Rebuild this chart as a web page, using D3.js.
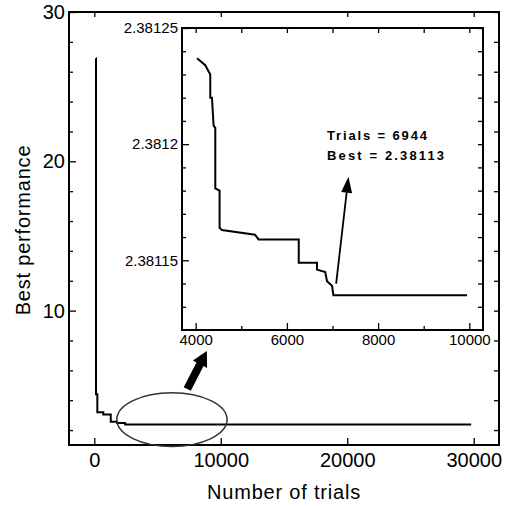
<!DOCTYPE html>
<html lang="en">
  <head>
    <meta charset="UTF-8" />
    <title>Best performance vs number of trials</title>
    <style>
      body {
        margin: 0;
        background: #fff;
        font-family: "Liberation Sans", Arial, sans-serif;
      }
      .frame {
        fill: none;
        stroke: #000;
        stroke-width: 2px;
      }
      .tick line {
        stroke: #000;
        stroke-width: 1.3px;
      }
      .domain {
        display: none;
      }
      .line {
        fill: none;
        stroke: #000;
        stroke-width: 2px;
      }
    </style>
  </head>
  <body>
    <div id="chart"></div>
    <script src="https://d3js.org/d3.v7.min.js"></script>
    <script>
      // main curve: best-so-far value after each improvement
      const mainTrials = [135, 136, 240, 710, 1300, 1800, 2440, 29800];
      const mainBest = [26.9, 4.4, 3.2, 3.05, 2.55, 2.47, 2.3811, 2.3811];

      // zoomed curve (inset)
      const insetTrials = [4030, 4210, 4320, 4320, 4357, 4393, 4430, 4430, 4524, 4524, 4577, 5300, 5380,
        6260, 6260, 6660, 6660, 6840, 6880, 6990, 7020, 9950];
      const insetBest = [2.381237, 2.381234, 2.38123, 2.38122, 2.38122, 2.381208, 2.381207, 2.381181,
        2.38118, 2.381164, 2.381163, 2.381161, 2.381159, 2.381159, 2.381149, 2.381149, 2.381146,
        2.381145, 2.381141, 2.381139, 2.381135, 2.381135];

      const mainXTicks = [0, 10000, 20000, 30000];
      const mainYTicks = [10, 20, 30];
      const mainYMinor = [2, 4, 6, 8, 12, 14, 16, 18, 22, 24, 26, 28];
      const insetXTicks = [4000, 6000, 8000, 10000];
      const insetXMinor = [5000, 7000, 9000];
      const insetYTicks = [2.38115, 2.3812, 2.38125];
      const insetYMinor = [2.38113, 2.38114, 2.38116, 2.38117, 2.38118, 2.38119, 2.38121, 2.38122, 2.38123, 2.38124];

      const noteLines = ["Trials = 6944", "Best = 2.38113"];

      const width = 509, height = 506;
      const svg = d3.select("#chart").append("svg")
        .attr("width", width).attr("height", height);

      // ---- main plot
      const x = d3.scaleLinear().domain([-2000, 32000]).range([69, 499]);
      const y = d3.scaleLinear().domain([1, 30]).range([445, 12]);

      function frameAxes(g, xs, ys, xt, xm, yt, ym, fs, labels) {
        const [x0, x1] = xs.range();
        const [y0, y1] = ys.range();
        g.append("g").attr("transform", `translate(0,${y0})`)
          .call(d3.axisBottom(xs).tickValues(xt).tickSizeInner(-7).tickSizeOuter(0)
            .tickPadding(labels.xPad).tickFormat(labels.xFmt))
          .call(a => a.selectAll("text").attr("font-size", fs).attr("font-family", "Liberation Sans, Arial, sans-serif"));
        g.append("g").attr("transform", `translate(0,${y0})`)
          .call(d3.axisBottom(xs).tickValues(xm).tickSizeInner(-4).tickSizeOuter(0).tickFormat(""));
        g.append("g").attr("transform", `translate(0,${y1})`)
          .call(d3.axisTop(xs).tickValues(xt.concat(xm)).tickSizeInner(-5).tickSizeOuter(0).tickFormat(""));
        g.append("g").attr("transform", `translate(${x0},0)`)
          .call(d3.axisLeft(ys).tickValues(yt).tickSizeInner(-7).tickSizeOuter(0)
            .tickPadding(labels.yPad).tickFormat(labels.yFmt))
          .call(a => a.selectAll("text").attr("font-size", fs).attr("font-family", "Liberation Sans, Arial, sans-serif"));
        g.append("g").attr("transform", `translate(${x0},0)`)
          .call(d3.axisLeft(ys).tickValues(ym).tickSizeInner(-4).tickSizeOuter(0).tickFormat(""));
        g.append("g").attr("transform", `translate(${x1},0)`)
          .call(d3.axisRight(ys).tickValues(yt.concat(ym)).tickSizeInner(-5).tickSizeOuter(0).tickFormat(""));
        g.append("rect").attr("class", "frame")
          .attr("x", x0).attr("y", y1).attr("width", x1 - x0).attr("height", y0 - y1);
      }

      const main = svg.append("g");
      frameAxes(main, x, y, mainXTicks, [], mainYTicks, mainYMinor, 20,
        { xPad: 8, yPad: 4, xFmt: d => d, yFmt: d => d });

      const mainLine = d3.line().curve(d3.curveStepAfter)
        .x((d, i) => x(mainTrials[i])).y(d => y(d));
      main.append("path").attr("class", "line").attr("d", mainLine(mainBest));

      // ellipse around the zoomed region
      const ell = { trial: 6140, best: 2.7, dTrial: 4360, dBest: 1.8 };
      main.append("ellipse")
        .attr("cx", x(ell.trial)).attr("cy", y(ell.best))
        .attr("rx", x(ell.trial + ell.dTrial) - x(ell.trial))
        .attr("ry", y(ell.best) - y(ell.best + ell.dBest))
        .attr("fill", "none").attr("stroke", "#333").attr("stroke-width", 1.5);

      // filled arrow: shaft width, head width, head length in px
      function blockArrow(g, ax, ay, bx, by, shaft, head, headLen) {
        const dx = bx - ax, dy = by - ay, len = Math.hypot(dx, dy);
        const ux = dx / len, uy = dy / len, px = -uy, py = ux;
        const hx = bx - ux * headLen, hy = by - uy * headLen;
        const pts = [
          [ax + px * shaft / 2, ay + py * shaft / 2],
          [hx + px * shaft / 2, hy + py * shaft / 2],
          [hx + px * head / 2, hy + py * head / 2],
          [bx, by],
          [hx - px * head / 2, hy - py * head / 2],
          [hx - px * shaft / 2, hy - py * shaft / 2],
          [ax - px * shaft / 2, ay - py * shaft / 2]
        ];
        g.append("path").attr("d", "M" + pts.join("L") + "Z").attr("fill", "#000");
      }
      blockArrow(main, x(7350), y(4.75), x(8900), y(7.3), 8, 16, 15);

      // axis titles
      svg.append("text").attr("x", 284).attr("y", 499).attr("text-anchor", "middle")
        .attr("font-size", 20).attr("letter-spacing", 0.8).text("Number of trials");
      svg.append("text").attr("transform", "translate(30,230) rotate(-90)")
        .attr("text-anchor", "middle").attr("font-size", 20).attr("letter-spacing", 0.8)
        .text("Best  performance");

      // ---- inset
      const xi = d3.scaleLinear().domain([3700, 10300]).range([182, 483]);
      const yi = d3.scaleLinear().domain([2.38112, 2.38125]).range([330, 28]);

      const inset = svg.append("g");
      inset.append("rect").attr("x", 182).attr("y", 28).attr("width", 301).attr("height", 302).attr("fill", "#fff");
      frameAxes(inset, xi, yi, insetXTicks, insetXMinor, insetYTicks, insetYMinor, 15,
        { xPad: 4, yPad: 4, xFmt: d => d, yFmt: d => String(d) });

      const insetLine = d3.line().x((d, i) => xi(insetTrials[i])).y(d => yi(d));
      inset.append("path").attr("class", "line").attr("d", insetLine(insetBest));

      // annotation arrow and text
      blockArrow(inset, xi(7080), yi(2.38114), xi(7350), yi(2.381186), 1.8, 11, 16);
      inset.selectAll(".note").data(noteLines).join("text")
        .attr("class", "note")
        .attr("x", xi(6880)).attr("y", (d, i) => yi(2.381202) + i * 20)
        .attr("font-size", 13).attr("font-weight", "bold")
        .attr("textLength", (d, i) => i ? 117 : 100).attr("lengthAdjust", "spacing")
        .text(d => d);
    </script>
  </body>
</html>
